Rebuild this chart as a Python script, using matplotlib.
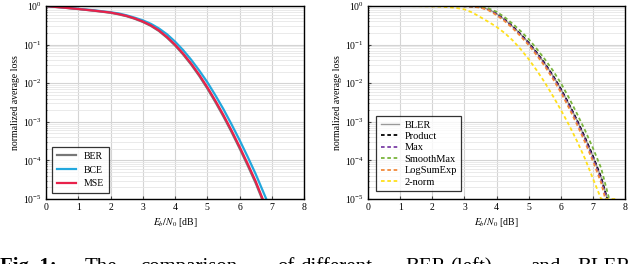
import numpy as np
import matplotlib
matplotlib.use("Agg")
import matplotlib.pyplot as plt
from matplotlib.ticker import LogLocator, NullFormatter

plt.rcParams['font.family'] = ['Liberation Serif', 'DejaVu Serif']
plt.rcParams['mathtext.fontset'] = 'stix'

# left panel: bit-wise losses
snr_l = [0, 0.5, 1, 1.5, 2, 2.25, 2.5, 2.75, 3, 3.25, 3.5, 3.75, 4, 4.25, 4.5, 4.75,
         5, 5.25, 5.5, 5.75, 6, 6.25, 6.5]
ber = [1.0, 0.915, 0.835, 0.755, 0.67, 0.61, 0.545, 0.468, 0.388, 0.307, 0.226, 0.152,
       0.0955, 0.0558, 0.0305, 0.0155, 7.35e-3, 3.27e-3, 1.38e-3, 5.5e-4, 2.07e-4, 7.5e-5, 2.6e-5]
mse = [1.0, 0.92, 0.84, 0.76, 0.68, 0.62, 0.556, 0.479, 0.398, 0.316, 0.234, 0.158,
       0.100, 0.0589, 0.0324, 0.0166, 7.94e-3, 3.55e-3, 1.51e-3, 6.03e-4, 2.29e-4, 8.3e-5, 2.9e-5]
bce = [1.0, 0.93, 0.85, 0.776, 0.69, 0.645, 0.575, 0.50, 0.427, 0.347, 0.263, 0.186,
       0.120, 0.0724, 0.0407, 0.0214, 0.0107, 4.9e-3, 2.14e-3, 8.7e-4, 3.39e-4, 1.26e-4, 4.47e-5]
ber_end = [6.7, 1e-5]
mse_end = [6.72, 1e-5]
bce_end = [6.83, 1e-5]

# right panel: block-wise losses
snr_r = [0, 1, 1.5, 2, 2.25, 2.5, 2.75, 3, 3.25, 3.5, 3.75, 4, 4.25, 4.5, 4.75,
         5, 5.25, 5.5, 5.75, 6, 6.25, 6.5, 6.75, 7, 7.25]
product = [1.0, 1.0, 1.0, 1.0, 1.0, 1.0, 0.999, 0.995, 0.977, 0.933, 0.822, 0.631, 0.447, 0.295, 0.186,
           0.111, 0.0617, 0.0324, 0.0158, 7.08e-3, 2.88e-3, 1.10e-3, 3.89e-4, 1.26e-4, 3.63e-5]
maxl = [1.0, 1.0, 1.0, 1.0, 1.0, 1.0, 0.999, 0.994, 0.975, 0.928, 0.81, 0.615, 0.432, 0.284, 0.177,
        0.105, 0.058, 0.0302, 0.0146, 6.5e-3, 2.62e-3, 9.9e-4, 3.48e-4, 1.11e-4, 3.15e-5]
smoothmax = [1.0, 1.0, 1.0, 1.0, 1.0, 1.0, 1.0, 0.998, 0.986, 0.95, 0.87, 0.71, 0.513, 0.347, 0.224,
             0.138, 0.0776, 0.0417, 0.0214, 0.01, 4.17e-3, 1.62e-3, 6.0e-4, 2.04e-4, 6.3e-5]
logsumexp = [1.0, 1.0, 1.0, 1.0, 1.0, 1.0, 0.998, 0.991, 0.966, 0.908, 0.776, 0.582, 0.407, 0.266, 0.164,
             0.0966, 0.0525, 0.0275, 0.013, 5.75e-3, 2.29e-3, 8.5e-4, 2.95e-4, 9.3e-5, 2.63e-5]
norm2 = [1.0, 1.0, 0.995, 0.982, 0.966, 0.938, 0.891, 0.822, 0.676, 0.513, 0.389, 0.288, 0.200, 0.129, 0.0759,
         0.0417, 0.0214, 0.0104, 4.68e-3, 2.02e-3, 8.3e-4, 3.16e-4, 1.1e-4, 3.3e-5, 1e-5]
product_end = [[7.44], [1e-5]]
maxl_end = [[7.42], [1e-5]]
smoothmax_end = [[7.5], [1e-5]]
logsumexp_end = [[7.38], [1e-5]]
norm2_end = [[7.5, 7.75], [1e-5, 1e-5]]

xticks = [0, 1, 2, 3, 4, 5, 6, 7, 8]

fig = plt.figure(figsize=(6.4, 2.64), dpi=100)
ax1 = fig.add_axes([0.072, 0.246, 0.403, 0.731])
ax2 = fig.add_axes([0.575, 0.246, 0.402, 0.731])


def style(ax):
    ax.set_yscale('log')
    ax.set_xlim(0, 8)
    ax.set_ylim(1e-5, 1)
    ax.set_xticks(xticks)
    ax.yaxis.set_major_locator(LogLocator(base=10, numticks=10))
    ax.yaxis.set_minor_locator(LogLocator(base=10, subs=np.arange(2, 10), numticks=20))
    ax.yaxis.set_minor_formatter(NullFormatter())
    ax.grid(True, which='major', color='#d4d4d4', lw=0.8)
    ax.grid(True, which='minor', axis='y', color='#e6e6e6', lw=0.6)
    ax.set_axisbelow(True)
    ax.tick_params(which='both', direction='in', labelsize=7, length=2, color='#444444', pad=3)
    ax.tick_params(which='minor', length=1)
    for s in ax.spines.values():
        s.set_linewidth(1.0)
    ax.set_xlabel('$E_b/N_0$ [dB]', fontsize=7, labelpad=3)
    ax.set_ylabel('normalized average loss', fontsize=7, labelpad=2)


style(ax1)
ax1.plot(snr_l + ber_end[:1], ber + ber_end[1:], color='#777777', lw=1.6, label='BER')
ax1.plot(snr_l + bce_end[:1], bce + bce_end[1:], color='#22a7dd', lw=1.6, label='BCE')
ax1.plot(snr_l + mse_end[:1], mse + mse_end[1:], color='#e8214a', lw=1.6, label='MSE')
leg1 = ax1.legend(loc='lower left', fontsize=7, frameon=True, fancybox=False,
                  edgecolor='black', borderaxespad=0.6, handlelength=2.0,
                  labelspacing=0.5, borderpad=0.5)
leg1.get_frame().set_linewidth(0.9)

style(ax2)
dash = (0, (2, 1.5))
ax2.plot(snr_r + product_end[0], product + product_end[1], color='#999999', lw=1.0, label='BLER')
ax2.plot(snr_r + product_end[0], product + product_end[1], color='black', lw=1.3, ls=dash, label='Product')
ax2.plot(snr_r + maxl_end[0], maxl + maxl_end[1], color='#7b3fa6', lw=1.3, ls=dash, label='Max')
ax2.plot(snr_r + smoothmax_end[0], smoothmax + smoothmax_end[1], color='#79b43c', lw=1.3, ls=dash, label='SmoothMax')
ax2.plot(snr_r + logsumexp_end[0], logsumexp + logsumexp_end[1], color='#f28a3a', lw=1.3, ls=dash, label='LogSumExp')
ax2.plot(snr_r + norm2_end[0], norm2 + norm2_end[1], color='#ffe01a', lw=1.3, ls=dash, label='2-norm')
leg2 = ax2.legend(loc='lower left', fontsize=7.5, frameon=True, fancybox=False,
                  edgecolor='black', borderaxespad=0.8, handlelength=1.8,
                  labelspacing=0.2, borderpad=0.4, handletextpad=0.5)
leg2.get_frame().set_linewidth(0.9)

# caption, cut by the bottom edge as in the source
words = [('Fig. 1:', 0, 'bold'), ('The', 85, 'normal'), ('comparison', 140, 'normal'),
         ('of', 277, 'normal'), ('different', 300, 'normal'), ('BER', 405, 'normal'),
         ('(left)', 450, 'normal'), ('and', 530, 'normal'), ('BLER', 577, 'normal')]
for w, xp, fw in words:
    fig.text(xp / 640, -8 / 264, w, fontsize=15, fontweight=fw, va='baseline', ha='left')

fig.savefig('out.png', dpi=100)
